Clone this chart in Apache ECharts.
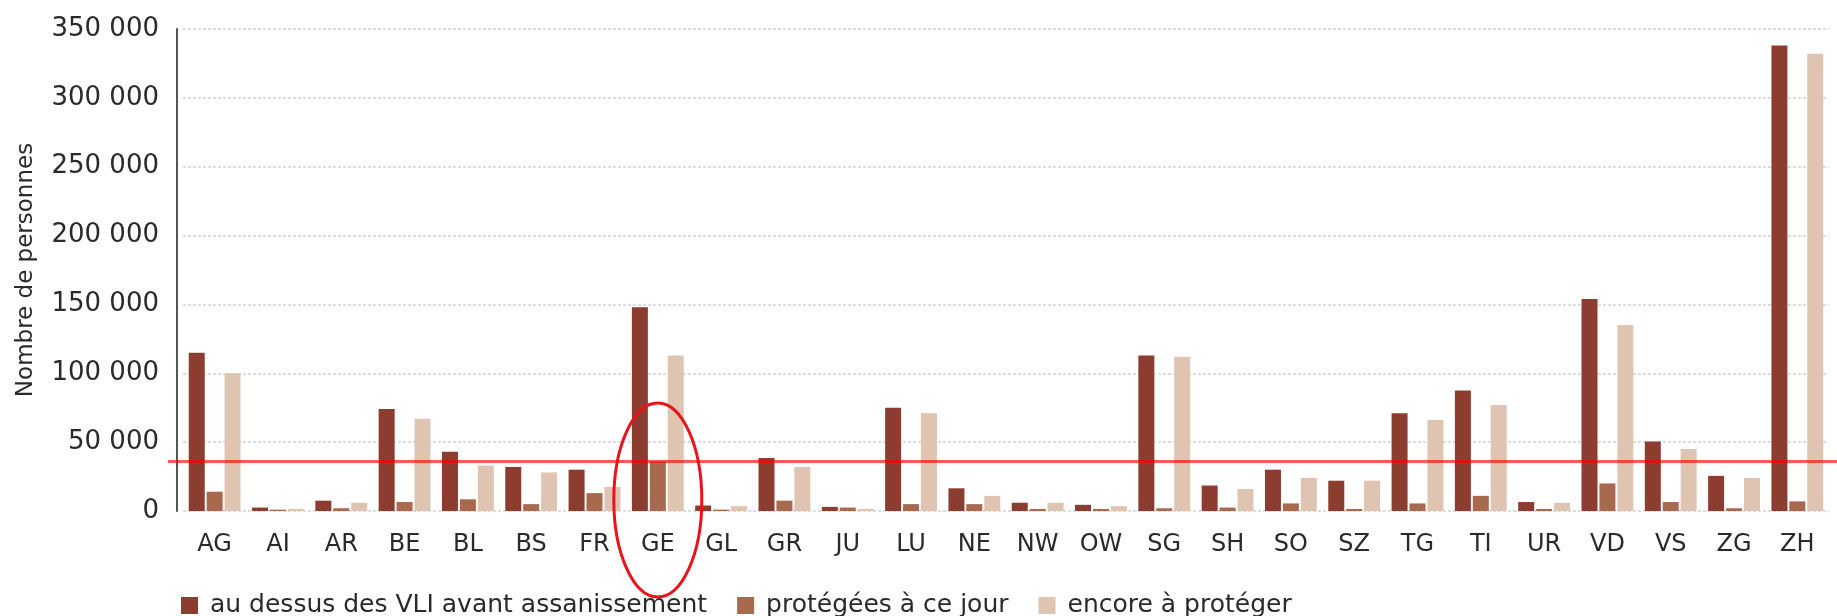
<!DOCTYPE html>
<html>
<head>
<meta charset="utf-8">
<title>Nombre de personnes par canton</title>
<script src="https://cdn.jsdelivr.net/npm/echarts@6/dist/echarts.min.js"></script>
<style>
  html, body { margin: 0; padding: 0; background: #fff; }
  #chart { width: 1837px; height: 616px; }
</style>
</head>
<body>
<div id="chart"></div>
<script>
var categories = ['AG', 'AI', 'AR', 'BE', 'BL', 'BS', 'FR', 'GE', 'GL', 'GR', 'JU', 'LU', 'NE',
    'NW', 'OW', 'SG', 'SH', 'SO', 'SZ', 'TG', 'TI', 'UR', 'VD', 'VS', 'ZG', 'ZH'];

var seriesNames = ['au dessus des VLI avant assanissement', 'protégées à ce jour', 'encore à protéger'];

var aboveVLI = [115000, 2500, 7500, 74000, 43000, 32000, 30000, 148000, 4000, 38500, 3000, 75000, 16500,
    6000, 4500, 113000, 18500, 30000, 22000, 71000, 87500, 6500, 154000, 50500, 25500, 338000];

var protectedToday = [14000, 1000, 2000, 6500, 8500, 5000, 13000, 36000, 1000, 7500, 2500, 5000, 5000,
    1500, 1500, 2000, 2500, 5500, 1500, 5500, 11000, 1500, 20000, 6500, 2000, 7000];

var toProtect = [100000, 1500, 6000, 67000, 33000, 28000, 17500, 113000, 3500, 32000, 1500, 71000, 11000,
    6000, 3500, 112000, 16000, 24000, 22000, 66000, 77000, 6000, 135000, 45000, 24000, 332000];

// red reference line and the circled canton
var threshold = 36000;
var highlighted = 'GE';

var dom = document.getElementById('chart');
var chart = echarts.init(dom);

function fmt(v) {
    return String(v).replace(/\B(?=(\d{3})+(?!\d))/g, ' ');
}

var font = 'DejaVu Sans';
var colors = ['#8c3d30', '#a8694f', '#dfc4b2'];

var option = {
    animation: false,
    color: colors,
    textStyle: { fontFamily: font },
    grid: { left: 183, right: 8, top: 29, bottom: 105 },
    legend: {
        left: 176,
        top: 588,
        icon: 'rect',
        itemWidth: 17,
        itemHeight: 17,
        itemGap: 30,
        textStyle: { fontSize: 25, color: '#2a2a2a', fontFamily: font, padding: [0, 0, 0, 7] },
        data: seriesNames
    },
    xAxis: {
        type: 'category',
        data: categories,
        axisLine: { show: false },
        axisTick: { show: false },
        axisLabel: { fontSize: 24, color: '#2a2a2a', margin: 22 }
    },
    yAxis: {
        type: 'value',
        min: 0,
        max: 350000,
        interval: 50000,
        offset: 6,
        name: 'Nombre de personnes',
        nameLocation: 'middle',
        nameGap: 139,
        nameTextStyle: { fontSize: 23, color: '#2a2a2a' },
        axisLine: { show: true, lineStyle: { color: '#555', width: 2 } },
        axisTick: { show: false },
        axisLabel: { fontSize: 26, color: '#2a2a2a', margin: 18, formatter: fmt },
        splitLine: { lineStyle: { color: '#d2d2d2', width: 1.5, type: [3, 2] } }
    },
    series: [
        { name: seriesNames[0], type: 'bar', data: aboveVLI, barWidth: 16, barGap: '12%' },
        { name: seriesNames[1], type: 'bar', data: protectedToday, barWidth: 16, barGap: '12%' },
        { name: seriesNames[2], type: 'bar', data: toProtect, barWidth: 16, barGap: '12%' }
    ]
};
chart.setOption(option);

// annotations placed from the axes
var yLine = chart.convertToPixel({ yAxisIndex: 0 }, threshold);
var y0 = chart.convertToPixel({ yAxisIndex: 0 }, 0);
var xGE = chart.convertToPixel({ xAxisIndex: 0 }, highlighted);

chart.setOption({
    graphic: [
        {
            type: 'line',
            z: 100,
            shape: { x1: 168, y1: yLine, x2: 1837, y2: yLine },
            style: { stroke: 'rgba(255,0,0,0.65)', lineWidth: 3 }
        },
        {
            type: 'ellipse',
            z: 100,
            shape: { cx: xGE, cy: y0 - 11, rx: 44, ry: 97 },
            style: { fill: 'none', stroke: '#e8141a', lineWidth: 3 }
        }
    ]
});
</script>
</body>
</html>
